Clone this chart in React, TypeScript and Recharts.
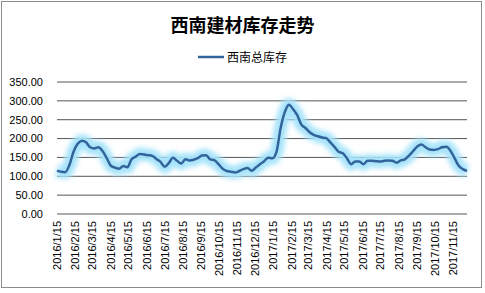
import React from "react";
import { LineChart, Line, XAxis, YAxis, CartesianGrid, Legend } from "recharts";

const title = "西南建材库存走势";
const seriesName = "西南总库存";
const startDate = Date.UTC(2016, 0, 15);
const weekStep = 7;

// weekly values starting 2016/1/15
const inventory = [
  115, 112, 111, 130, 165, 186, 194, 190, 177, 174,
  177, 167, 148, 128, 123, 120, 127, 124, 145, 152,
  159, 158, 156, 154, 146, 138, 125, 135, 149, 141,
  134, 145, 142, 144, 148, 155, 156, 145, 143, 132,
  120, 114, 112, 110, 114, 119, 122, 115, 123, 132,
  140, 149, 148, 165, 228, 270, 290, 278, 262, 237,
  228, 217, 210, 206, 203, 201, 190, 178, 165, 161,
  148, 132, 139, 139, 132, 141, 141, 140, 139, 141,
  142, 141, 136, 142, 145, 155, 167, 179, 184, 177,
  171, 170, 172, 177, 178, 168, 148, 128, 119, 114,
];

const yTicks = [0, 50, 100, 150, 200, 250, 300, 350];

// tick labels: the 15th of each month
const tickMonths: [number, number][] = [
  [2016, 1], [2016, 2], [2016, 3], [2016, 4], [2016, 5], [2016, 6],
  [2016, 7], [2016, 8], [2016, 9], [2016, 10], [2016, 11], [2016, 12],
  [2017, 1], [2017, 2], [2017, 3], [2017, 4], [2017, 5], [2017, 6],
  [2017, 7], [2017, 8], [2017, 9], [2017, 10], [2017, 11],
];

const DAY = 86400000;
const data = inventory.map((v, i) => ({ t: i * weekStep, value: v }));
const xTicks = tickMonths.map(([y, m]) => (Date.UTC(y, m - 1, 15) - startDate) / DAY);
const tickLabel = (t: number) => {
  const d = new Date(startDate + t * DAY);
  return `${d.getUTCFullYear()}/${d.getUTCMonth() + 1}/${d.getUTCDate()}`;
};

const FONT = "'Liberation Sans', Arial, sans-serif";
const CJK = "'Noto Sans CJK SC', sans-serif";
const LINE_COLOR = "#33639B";

const XTick = (props: any) => {
  const { x, y, payload } = props;
  return (
    <text
      x={x}
      y={y}
      transform={`rotate(-90, ${x}, ${y})`}
      textAnchor="end"
      dy="0.35em"
      fontSize={11}
      fontFamily={FONT}
      fill="#000"
    >
      {tickLabel(payload.value)}
    </text>
  );
};

const LegendContent = () => (
  <div style={{ display: "flex", justifyContent: "center", alignItems: "center", height: 16 }}>
    <svg width={26} height={6} style={{ marginRight: 3 }}>
      <line x1={0} y1={3} x2={26} y2={3} stroke={LINE_COLOR} strokeWidth={2.5} />
    </svg>
    <span style={{ fontFamily: CJK, fontSize: 12, color: "#000", lineHeight: "16px" }}>{seriesName}</span>
  </div>
);

export default function App() {
  return (
    <div style={{ position: "absolute", left: 0, top: 0, width: 485, height: 293, background: "#fff" }}>
      <div
        style={{
          position: "absolute", left: 1, top: 1, width: 479, height: 285,
          border: "1px solid #8c8c8c", boxSizing: "content-box", pointerEvents: "none",
        }}
      />
      <div
        style={{
          position: "absolute", left: 0, top: 13, width: 485, textAlign: "center",
          fontFamily: CJK, fontWeight: 700, fontSize: 18, lineHeight: "22px", color: "#000",
        }}
      >
        {title}
      </div>
      <LineChart width={485} height={293} data={data} margin={{ top: 82, right: 18, bottom: 5, left: 0 }}>
        <defs>
          <filter id="glow" x="-10%" y="-50%" width="120%" height="200%">
            <feGaussianBlur stdDeviation="2.5" />
          </filter>
        </defs>
        <CartesianGrid vertical={false} stroke="#555" strokeWidth={1} />
        <XAxis
          dataKey="t"
          type="number"
          domain={[0, (inventory.length - 1) * weekStep]}
          ticks={xTicks}
          interval={0}
          tick={<XTick />}
          tickLine={false}
          axisLine={false}
          tickSize={0}
          tickMargin={7}
          height={74}
        />
        <YAxis
          domain={[0, 350]}
          ticks={yTicks}
          tickFormatter={(v: number) => v.toFixed(2)}
          tick={{ fontSize: 11, fontFamily: FONT, fill: "#000" }}
          tickLine={false}
          axisLine={false}
          tickSize={0}
          tickMargin={14}
          width={57}
          interval={0}
        />
        <Legend
          verticalAlign="middle"
          align="center"
          content={<LegendContent />}
          wrapperStyle={{ top: 49, left: 0, width: 485 }}
        />
        <Line
          type="monotone"
          dataKey="value"
          stroke="#a6e3fa"
          strokeWidth={13}
          strokeOpacity={1}
          filter="url(#glow)"
          dot={false}
          activeDot={false}
          legendType="none"
          isAnimationActive={false}
        />
        <Line
          type="monotone"
          dataKey="value"
          name={seriesName}
          stroke={LINE_COLOR}
          strokeWidth={2.5}
          dot={false}
          isAnimationActive={false}
        />
      </LineChart>
    </div>
  );
}
